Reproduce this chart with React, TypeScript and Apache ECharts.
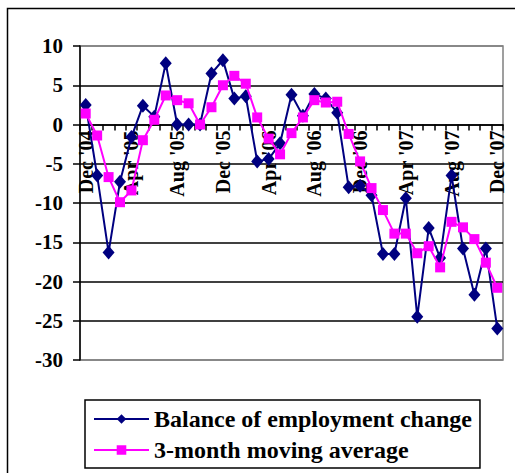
import React, { useEffect, useRef } from "react";
import * as echarts from "echarts";

const categories: string[] = [
  "Dec '04",
  "Jan '05", "Feb '05", "Mar '05", "Apr '05", "May '05", "Jun '05", "Jul '05", "Aug '05", "Sep '05", "Oct '05", "Nov '05", "Dec '05",
  "Jan '06", "Feb '06", "Mar '06", "Apr '06", "May '06", "Jun '06", "Jul '06", "Aug '06", "Sep '06", "Oct '06", "Nov '06", "Dec '06",
  "Jan '07", "Feb '07", "Mar '07", "Apr '07", "May '07", "Jun '07", "Jul '07", "Aug '07", "Sep '07", "Oct '07", "Nov '07", "Dec '07",
];

const balance: number[] = [
  2.5, -6.5, -16.3, -7.3, -1.6, 2.4, 1.0, 7.8, 0, 0, 0, 6.5, 8.2,
  3.3, 3.6, -4.7, -4.4, -2.4, 3.8, 1.1, 3.9, 3.3, 1.5, -8.0, -7.8,
  -9.0, -16.5, -16.5, -9.4, -24.5, -13.2, -17.0, -6.5, -15.8, -21.7, -15.8, -26.0,
];

const movingAvg: number[] = [
  1.4, -1.4, -6.7, -9.9, -8.4, -2.0, 0.6, 3.7, 3.1, 2.7, 0, 2.2, 5.0,
  6.2, 5.2, 0.9, -1.8, -3.8, -1.1, 0.9, 3.1, 2.8, 2.9, -1.2, -4.7,
  -8.1, -10.9, -13.9, -13.9, -16.4, -15.5, -18.2, -12.4, -13.1, -14.6, -17.6, -20.8,
];

const seriesNames = ["Balance of employment change", "3-month moving average"];
const yMin = -30;
const yMax = 10;
const yStep = 5;

const FONT = "'Liberation Serif', 'Times New Roman', serif";

const GRID_TOP = 46;
const GRID_BOTTOM = 113;
const CHART_H = 473;

export default function App() {
  const ref = useRef<HTMLDivElement>(null);
  useEffect(() => {
    if (!ref.current) return;
    const chart = echarts.init(ref.current, undefined, { renderer: "svg" });
    const gridH = CHART_H - GRID_TOP - GRID_BOTTOM;
    const zeroFromBottom = (gridH * (0 - yMin)) / (yMax - yMin);
    const gridColors = ["#808080", "#000", "#000", "#000", "#000", "#000", "#000", "#000", "#808080"];
    chart.setOption({
      animation: false,
      backgroundColor: "#fff",
      graphic: [
        {
          type: "rect",
          shape: { x: 7.5, y: 8.5, width: 530, height: 490 },
          style: { fill: "none", stroke: "#000", lineWidth: 1.5 },
          silent: true,
        },
      ],
      grid: {
        left: 80,
        right: 12,
        top: GRID_TOP,
        bottom: GRID_BOTTOM,
        show: true,
        borderColor: "#808080",
        borderWidth: 1.5,
        backgroundColor: "transparent",
      },
      legend: {
        orient: "vertical",
        left: 85,
        top: 400,
        padding: [7, 8, 6, 8],
        itemGap: 7,
        itemWidth: 55,
        itemHeight: 12,
        borderColor: "#000",
        borderWidth: 1.5,
        backgroundColor: "#fff",
        textStyle: {
          fontFamily: FONT,
          fontWeight: "bold",
          fontSize: 24,
          color: "#000",
          lineHeight: 24,
        },
        data: seriesNames,
      },
      xAxis: {
        type: "category",
        data: categories,
        boundaryGap: true,
        position: "bottom",
        offset: -zeroFromBottom,
        axisLine: { onZero: false, lineStyle: { color: "#000", width: 1.5 } },
        axisTick: { show: true, interval: 0, length: 6, lineStyle: { color: "#000", width: 1.5 } },
        axisLabel: {
          interval: 3,
          rotate: 90,
          margin: 6,
          fontFamily: FONT,
          fontWeight: "bold",
          fontSize: 20,
          color: "#000",
        },
        splitLine: { show: false },
      },
      yAxis: {
        type: "value",
        min: yMin,
        max: yMax,
        interval: yStep,
        axisLine: { show: true, lineStyle: { color: "#000", width: 1.5 } },
        axisTick: { show: true, length: 7, lineStyle: { color: "#000", width: 1.5 } },
        axisLabel: {
          margin: 17,
          fontFamily: FONT,
          fontWeight: "bold",
          fontSize: 21,
          color: "#000",
        },
        splitLine: { show: true, lineStyle: { color: gridColors, width: 1.5 } },
      },
      series: [
        {
          name: seriesNames[0],
          type: "line",
          data: balance,
          symbol: "diamond",
          symbolSize: [12, 14],
          showAllSymbol: true,
          itemStyle: { color: "#000080" },
          lineStyle: { color: "#000080", width: 2 },
          z: 3,
        },
        {
          name: seriesNames[1],
          type: "line",
          data: movingAvg,
          symbol: "rect",
          symbolSize: 10,
          showAllSymbol: true,
          itemStyle: { color: "#FF00FF" },
          lineStyle: { color: "#FF00FF", width: 2 },
          z: 4,
        },
      ],
    });
    return () => chart.dispose();
  }, []);
  return (
    <div
      ref={ref}
      style={{ position: "absolute", left: 0, top: 0, width: 515, height: 473 }}
    />
  );
}
